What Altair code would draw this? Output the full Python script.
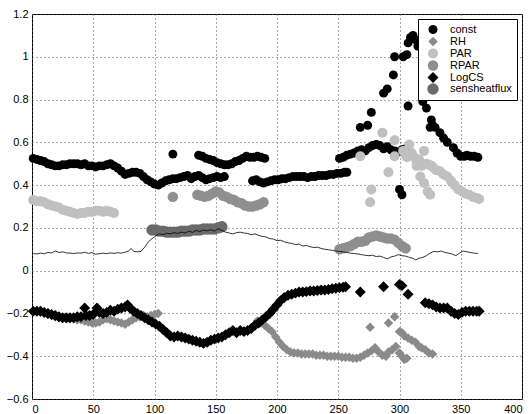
import altair as alt
import pandas as pd

# ---- data ----
const_day = [1, 4, 7, 10, 13, 16, 19, 22, 25, 28, 31, 34, 37, 40, 43, 46, 49, 52, 55, 58, 61, 64, 67, 70, 73, 76, 79, 82, 85, 88, 91, 94, 97, 100, 103, 106, 109, 112, 115, 118, 121, 124, 127, 130, 133, 136, 139, 142, 145, 148, 151, 154, 157,
             115,
             136, 139, 142, 145, 148, 151, 154, 157, 160, 163, 166, 169, 172, 175, 178, 181, 184, 187, 190,
             180, 183, 186, 189, 192, 195, 198, 201, 204, 207, 210, 213, 216, 219, 222, 225, 228, 231, 234, 237, 240, 243, 246, 249, 252, 255, 257,
             251, 254, 257, 260, 263, 266, 269, 272, 275, 278, 281, 284, 287, 290, 293, 296, 299, 302, 305,
             325, 329, 333, 336, 339, 344, 347, 350, 353, 355, 358, 361, 364,
             268, 274, 277, 287, 290, 295, 296, 303, 306, 307, 309, 311, 313, 315, 307, 319, 322, 326, 327, 300, 302]
const_val = [0.525, 0.52, 0.515, 0.51, 0.50, 0.495, 0.49, 0.49, 0.495, 0.495, 0.50, 0.50, 0.50, 0.495, 0.50, 0.49, 0.49, 0.485, 0.49, 0.49, 0.495, 0.50, 0.49, 0.48, 0.465, 0.45, 0.455, 0.46, 0.46, 0.455, 0.44, 0.425, 0.415, 0.405, 0.40, 0.41, 0.42, 0.425, 0.43, 0.43, 0.435, 0.44, 0.445, 0.43, 0.44, 0.445, 0.435, 0.425, 0.43, 0.435, 0.44, 0.435, 0.44,
             0.545,
             0.54, 0.535, 0.525, 0.52, 0.515, 0.505, 0.50, 0.495, 0.495, 0.50, 0.51, 0.515, 0.525, 0.535, 0.53, 0.53, 0.535, 0.53, 0.525,
             0.42, 0.425, 0.415, 0.41, 0.415, 0.42, 0.425, 0.425, 0.43, 0.43, 0.435, 0.44, 0.44, 0.44, 0.44, 0.435, 0.44, 0.44, 0.445, 0.445, 0.445, 0.45, 0.45, 0.455, 0.455, 0.46, 0.46,
             0.525, 0.53, 0.54, 0.545, 0.55, 0.56, 0.565, 0.56, 0.575, 0.585, 0.59, 0.585, 0.57, 0.58, 0.565, 0.56, 0.555, 0.565, 0.57,
             0.67, 0.67, 0.645, 0.62, 0.60, 0.575, 0.55, 0.535, 0.535, 0.54, 0.535, 0.535, 0.53,
             0.67, 0.68, 0.74, 0.83, 0.85, 0.915, 1.0, 1.0, 1.01, 1.065, 1.09, 1.10, 1.08, 1.05, 0.77, 0.79, 0.76, 0.705, 0.68, 0.38, 0.355]

rh_day = [1, 4, 7, 10, 13, 16, 19, 22, 25, 28, 31, 34, 37, 40, 43, 46, 49, 52, 55, 58, 61, 64, 67, 70, 73, 76, 79, 82, 85, 88, 91, 94, 97, 100, 103,
          184, 187, 190, 193, 196, 199, 202, 205, 208, 211, 214, 217, 220, 223, 226, 229, 232, 235, 238, 241, 244, 247, 250, 253, 256, 259, 262, 265, 268, 271, 274, 277, 280, 283, 286, 289, 291, 294, 297, 300, 302, 304, 306,
          276, 291, 296, 300, 302, 304, 307, 310, 313, 316, 318, 321, 324, 327]
rh_val = [-0.19, -0.19, -0.195, -0.20, -0.205, -0.21, -0.215, -0.22, -0.22, -0.225, -0.225, -0.225, -0.23, -0.23, -0.235, -0.24, -0.245, -0.245, -0.24, -0.23, -0.225, -0.23, -0.235, -0.24, -0.245, -0.25, -0.24, -0.23, -0.22, -0.215, -0.21, -0.215, -0.21, -0.205, -0.20,
          -0.235, -0.245, -0.255, -0.27, -0.285, -0.31, -0.335, -0.355, -0.37, -0.38, -0.385, -0.385, -0.39, -0.39, -0.39, -0.39, -0.395, -0.395, -0.395, -0.40, -0.40, -0.40, -0.40, -0.405, -0.405, -0.405, -0.41, -0.41, -0.405, -0.395, -0.385, -0.375, -0.36, -0.38, -0.395, -0.40, -0.38, -0.37, -0.355, -0.385, -0.40, -0.415, -0.41,
          -0.265, -0.245, -0.215, -0.285, -0.29, -0.305, -0.315, -0.325, -0.335, -0.355, -0.36, -0.37, -0.385, -0.39]

par_day = [1, 4, 7, 10, 13, 16, 19, 22, 25, 28, 31, 34, 37, 40, 43, 46, 49, 52, 55, 58, 61, 64, 67,
           268, 276, 277, 286, 291, 296, 296, 303, 305, 306, 308, 310, 312, 314, 316, 318, 320, 322, 324, 326, 328, 330, 333, 336, 339, 342, 345, 348, 351, 354, 357, 360, 363, 365,
           314, 317, 320, 323, 325]
par_val = [0.33, 0.325, 0.325, 0.32, 0.31, 0.305, 0.30, 0.295, 0.285, 0.28, 0.275, 0.27, 0.265, 0.27, 0.27, 0.275, 0.275, 0.28, 0.28, 0.275, 0.28, 0.275, 0.27,
           0.535, 0.32, 0.38, 0.645, 0.46, 0.61, 0.535, 0.56, 0.54, 0.53, 0.59, 0.55, 0.53, 0.51, 0.52, 0.49, 0.56, 0.50, 0.495, 0.49, 0.48, 0.47, 0.465, 0.45, 0.44, 0.42, 0.40, 0.38, 0.37, 0.36, 0.355, 0.345, 0.34, 0.335,
           0.49, 0.44, 0.41, 0.37, 0.355]

rpar_day = [115, 135, 138, 141, 144, 147, 150, 153, 156, 159, 162, 165, 168, 171, 174, 177, 180, 183, 186, 189,
            251, 254, 257, 260, 263, 266, 269, 272, 275, 278, 281, 284, 287, 290, 293, 296, 299, 302, 305]
rpar_val = [0.345, 0.355, 0.35, 0.345, 0.35, 0.36, 0.37, 0.365, 0.35, 0.345, 0.335, 0.33, 0.32, 0.315, 0.305, 0.30, 0.30, 0.305, 0.31, 0.32,
            0.10, 0.105, 0.11, 0.115, 0.125, 0.135, 0.135, 0.14, 0.155, 0.16, 0.165, 0.16, 0.155, 0.15, 0.15, 0.145, 0.13, 0.115, 0.105]

logcs_day = [1, 4, 7, 10, 13, 16, 19, 22, 25, 28, 31, 34, 37, 40, 43, 44, 47, 50, 53, 55, 58, 61, 64, 67, 70, 73, 76, 78, 80, 83, 86, 89, 92, 95, 98, 101, 104, 107, 110, 113, 116, 119, 122, 125, 128, 131, 134, 137, 140, 143, 146, 149, 152, 155, 158, 161, 164, 167, 170, 173, 176, 179, 182, 185, 188, 191, 194, 197, 200, 203, 206, 209, 212, 215, 218, 221, 224, 227, 230, 233, 236, 239, 242, 245, 248, 251, 254, 256,
             268, 287, 300, 302, 307, 321, 324, 327, 330, 333, 336, 339, 342, 345, 348, 351, 354, 357, 360, 363, 365]
logcs_val = [-0.19, -0.19, -0.19, -0.195, -0.20, -0.205, -0.21, -0.215, -0.22, -0.22, -0.22, -0.22, -0.215, -0.215, -0.175, -0.21, -0.21, -0.205, -0.175, -0.195, -0.20, -0.195, -0.185, -0.19, -0.18, -0.175, -0.17, -0.16, -0.175, -0.19, -0.20, -0.21, -0.22, -0.23, -0.24, -0.25, -0.26, -0.275, -0.29, -0.305, -0.31, -0.305, -0.31, -0.315, -0.32, -0.325, -0.33, -0.335, -0.34, -0.335, -0.325, -0.32, -0.315, -0.31, -0.30, -0.29, -0.28, -0.29, -0.28, -0.285, -0.28, -0.27, -0.255, -0.245, -0.23, -0.215, -0.20, -0.18, -0.16, -0.14, -0.125, -0.115, -0.11, -0.105, -0.10, -0.10, -0.098, -0.095, -0.095, -0.093, -0.09, -0.09, -0.088, -0.085, -0.082, -0.08, -0.078, -0.075,
             -0.10, -0.075, -0.065, -0.07, -0.11, -0.15, -0.155, -0.16, -0.17, -0.175, -0.175, -0.175, -0.19, -0.20, -0.205, -0.195, -0.19, -0.19, -0.19, -0.19, -0.19]

shf_day = [98, 101, 104, 107, 110, 113, 116, 119, 122, 125, 128, 131, 134, 137, 140, 143, 146, 149, 152, 155]
shf_val = [0.19, 0.19, 0.185, 0.185, 0.18, 0.18, 0.18, 0.18, 0.185, 0.185, 0.185, 0.19, 0.19, 0.19, 0.195, 0.195, 0.195, 0.195, 0.20, 0.205]

line_day = [1, 4, 7, 10, 13, 16, 19, 22, 25, 28, 31, 34, 37, 40, 43, 46, 49, 52, 55, 58, 61, 64, 67, 70, 73, 76, 79, 81, 83, 86, 89, 92, 95, 98, 101, 104, 107, 110, 113, 116, 119, 122, 125, 128, 131, 134, 137, 140, 143, 146, 149, 152, 155, 158, 161, 164, 167, 170, 173, 176, 179, 182, 185, 188, 191, 194, 197, 200, 203, 206, 209, 212, 215, 218, 221, 224, 227, 230, 233, 236, 239, 242, 245, 248, 251, 254, 257, 260, 263, 266, 269, 272, 275, 278, 281, 284, 287, 290, 293, 296, 299, 302, 305, 308, 311, 313, 316, 319, 322, 325, 328, 331, 334, 337, 340, 343, 346, 349, 352, 355, 358, 361, 364]
line_val = [0.080, 0.078, 0.082, 0.079, 0.085, 0.083, 0.092, 0.085, 0.088, 0.083, 0.082, 0.080, 0.083, 0.082, 0.086, 0.081, 0.084, 0.077, 0.079, 0.082, 0.080, 0.083, 0.081, 0.084, 0.082, 0.086, 0.093, 0.104, 0.090, 0.088, 0.090, 0.110, 0.135, 0.150, 0.162, 0.172, 0.168, 0.175, 0.172, 0.178, 0.174, 0.180, 0.176, 0.185, 0.179, 0.188, 0.183, 0.190, 0.186, 0.192, 0.185, 0.196, 0.188, 0.180, 0.176, 0.172, 0.178, 0.180, 0.176, 0.174, 0.168, 0.172, 0.165, 0.160, 0.158, 0.150, 0.148, 0.140, 0.142, 0.135, 0.130, 0.128, 0.122, 0.124, 0.115, 0.118, 0.112, 0.108, 0.110, 0.104, 0.100, 0.098, 0.095, 0.092, 0.090, 0.088, 0.085, 0.082, 0.080, 0.078, 0.075, 0.072, 0.070, 0.072, 0.066, 0.068, 0.062, 0.055, 0.064, 0.068, 0.075, 0.070, 0.068, 0.062, 0.058, 0.050, 0.058, 0.062, 0.070, 0.082, 0.090, 0.088, 0.092, 0.085, 0.082, 0.078, 0.070, 0.082, 0.092, 0.088, 0.085, 0.082, 0.080]

series_names = ["const", "RH", "PAR", "RPAR", "LogCS", "sensheatflux"]
series_colors = ["#000000", "#8a8a8a", "#c0c0c0", "#8f8f8f", "#000000", "#6a6a6a"]
series_shapes = ["circle", "diamond", "circle", "circle", "diamond", "circle"]
series_sizes = [80, 130, 80, 80, 130, 80]


def frame(name, days, vals):
    return pd.DataFrame({"day": days, "value": vals, "series": name})


pts = pd.concat([
    frame("const", const_day, const_val),
    frame("RH", rh_day, rh_val),
    frame("PAR", par_day, par_val),
    frame("RPAR", rpar_day, rpar_val),
    frame("LogCS", logcs_day, logcs_val),
    frame("sensheatflux", shf_day, shf_val),
], ignore_index=True)

line_df = pd.DataFrame({"day": line_day, "value": line_val})

xs = alt.Scale(domain=[0, 400], nice=False)
ys = alt.Scale(domain=[-0.6, 1.2], nice=False)

xaxis = alt.Axis(values=[0, 50, 100, 150, 200, 250, 300, 350, 400], format="d", title=None)
yaxis = alt.Axis(values=[-0.6, -0.4, -0.2, 0, 0.2, 0.4, 0.6, 0.8, 1.0, 1.2], format=".1~f", title=None)

leg = alt.Legend(title=None, orient="none", legendX=386, legendY=5)

points = alt.Chart(pts).mark_point(filled=True, opacity=1).encode(
    x=alt.X("day:Q", scale=xs, axis=xaxis),
    y=alt.Y("value:Q", scale=ys, axis=yaxis),
    color=alt.Color("series:N", scale=alt.Scale(domain=series_names, range=series_colors), legend=leg),
    shape=alt.Shape("series:N", scale=alt.Scale(domain=series_names, range=series_shapes), legend=leg),
    size=alt.Size("series:N", scale=alt.Scale(domain=series_names, range=series_sizes), legend=None),
)

line = alt.Chart(line_df).mark_line(color="black", strokeWidth=0.8).encode(
    x=alt.X("day:Q", scale=xs),
    y=alt.Y("value:Q", scale=ys),
)

chart = alt.layer(points, line).properties(
    width=490, height=385,
    autosize=alt.AutoSizeParams(type="none"),
    padding={"left": 32, "top": 14, "right": 7, "bottom": 15},
    background="white",
).configure_view(
    stroke="black", strokeWidth=1
).configure_axis(
    grid=True, gridColor="#555555", gridDash=[1, 3], gridWidth=1, gridOpacity=1,
    domain=False, ticks=False,
    labelFont="Liberation Sans", labelFontSize=11, labelColor="black", labelPadding=4,
).configure_legend(
    strokeColor="black", fillColor="white", padding=5, cornerRadius=0,
    labelFont="Liberation Sans", labelFontSize=11, labelColor="black",
    symbolSize=50, symbolStrokeWidth=0, rowPadding=0, labelOffset=11, symbolOffset=4,
)

chart.save("out.html", embed_options={"renderer": "svg", "actions": False})
